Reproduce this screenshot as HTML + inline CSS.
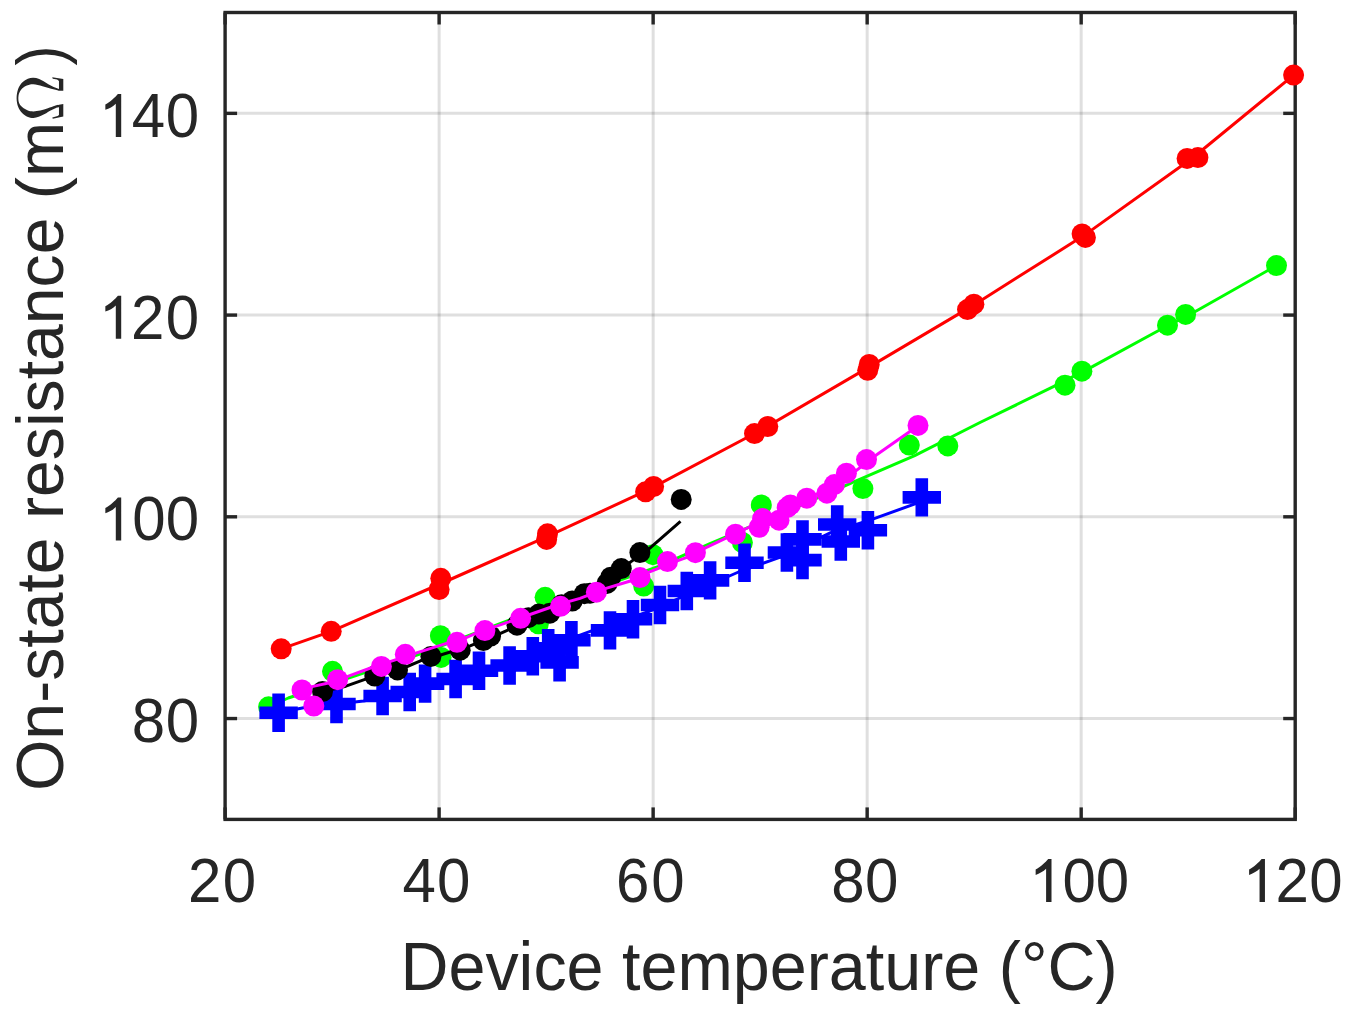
<!DOCTYPE html>
<html><head><meta charset="utf-8"><style>
html,body{margin:0;padding:0;background:#fff;}
body{width:1352px;height:1017px;overflow:hidden;}
svg{display:block;}
text{font-family:"Liberation Sans",sans-serif;fill:#262626;}
</style></head><body>
<svg width="1352" height="1017" viewBox="0 0 1352 1017">
<rect width="1352" height="1017" fill="#fff"/>
<g stroke="#262626" stroke-opacity="0.15" stroke-width="3">
<line x1="439.12" y1="12.5" x2="439.12" y2="819.4"/>
<line x1="653.14" y1="12.5" x2="653.14" y2="819.4"/>
<line x1="867.16" y1="12.5" x2="867.16" y2="819.4"/>
<line x1="1081.18" y1="12.5" x2="1081.18" y2="819.4"/>
<line x1="225.1" y1="718.54" x2="1295.2" y2="718.54"/>
<line x1="225.1" y1="516.81" x2="1295.2" y2="516.81"/>
<line x1="225.1" y1="315.09" x2="1295.2" y2="315.09"/>
<line x1="225.1" y1="113.36" x2="1295.2" y2="113.36"/>
</g>
<g stroke="#262626" stroke-width="3.4">
<line x1="225.10" y1="819.4" x2="225.10" y2="807.4"/>
<line x1="225.10" y1="12.5" x2="225.10" y2="24.5"/>
<line x1="439.12" y1="819.4" x2="439.12" y2="807.4"/>
<line x1="439.12" y1="12.5" x2="439.12" y2="24.5"/>
<line x1="653.14" y1="819.4" x2="653.14" y2="807.4"/>
<line x1="653.14" y1="12.5" x2="653.14" y2="24.5"/>
<line x1="867.16" y1="819.4" x2="867.16" y2="807.4"/>
<line x1="867.16" y1="12.5" x2="867.16" y2="24.5"/>
<line x1="1081.18" y1="819.4" x2="1081.18" y2="807.4"/>
<line x1="1081.18" y1="12.5" x2="1081.18" y2="24.5"/>
<line x1="1295.20" y1="819.4" x2="1295.20" y2="807.4"/>
<line x1="1295.20" y1="12.5" x2="1295.20" y2="24.5"/>
<line x1="225.1" y1="718.54" x2="237.1" y2="718.54"/>
<line x1="1295.2" y1="718.54" x2="1283.2" y2="718.54"/>
<line x1="225.1" y1="516.81" x2="237.1" y2="516.81"/>
<line x1="1295.2" y1="516.81" x2="1283.2" y2="516.81"/>
<line x1="225.1" y1="315.09" x2="237.1" y2="315.09"/>
<line x1="1295.2" y1="315.09" x2="1283.2" y2="315.09"/>
<line x1="225.1" y1="113.36" x2="237.1" y2="113.36"/>
<line x1="1295.2" y1="113.36" x2="1283.2" y2="113.36"/>
</g>
<rect x="225.1" y="12.5" width="1070.10" height="806.90" fill="none" stroke="#262626" stroke-width="3.4" stroke-linejoin="miter"/>
<g font-size="60" fill="#262626">
<text transform="translate(188.08,902.00) scale(1,1.04)" x="0" y="0">2</text>
<text transform="translate(222.76,902.00) scale(1,1.04)" x="0" y="0">0</text>
<text transform="translate(402.62,902.00) scale(1,1.04)" x="0" y="0">4</text>
<text transform="translate(436.96,902.00) scale(1,1.04)" x="0" y="0">0</text>
<text transform="translate(615.95,902.00) scale(1,1.04)" x="0" y="0">6</text>
<text transform="translate(651.26,902.00) scale(1,1.04)" x="0" y="0">0</text>
<text transform="translate(831.19,902.00) scale(1,1.04)" x="0" y="0">8</text>
<text transform="translate(864.96,902.00) scale(1,1.04)" x="0" y="0">0</text>
<path transform="translate(1051.50,902.00)" d="M0 0V-43H-3.3C-6 -39.7 -11 -35 -15.85 -32.4V-27.1C-12 -28.4 -8.2 -30.6 -5.4 -33.3V0Z"/>
<text transform="translate(1062.46,902.00) scale(1,1.04)" x="0" y="0">0</text>
<text transform="translate(1095.76,902.00) scale(1,1.04)" x="0" y="0">0</text>
<path transform="translate(1264.95,902.00)" d="M0 0V-43H-3.3C-6 -39.7 -11 -35 -15.85 -32.4V-27.1C-12 -28.4 -8.2 -30.6 -5.4 -33.3V0Z"/>
<text transform="translate(1275.58,902.00) scale(1,1.04)" x="0" y="0">2</text>
<text transform="translate(1309.26,902.00) scale(1,1.04)" x="0" y="0">0</text>
<text transform="translate(131.79,742.14) scale(1,1.04)" x="0" y="0">8</text>
<text transform="translate(165.66,742.14) scale(1,1.04)" x="0" y="0">0</text>
<path transform="translate(121.20,540.41)" d="M0 0V-43H-3.3C-6 -39.7 -11 -35 -15.85 -32.4V-27.1C-12 -28.4 -8.2 -30.6 -5.4 -33.3V0Z"/>
<text transform="translate(132.36,540.41) scale(1,1.04)" x="0" y="0">0</text>
<text transform="translate(165.66,540.41) scale(1,1.04)" x="0" y="0">0</text>
<path transform="translate(121.20,338.69)" d="M0 0V-43H-3.3C-6 -39.7 -11 -35 -15.85 -32.4V-27.1C-12 -28.4 -8.2 -30.6 -5.4 -33.3V0Z"/>
<text transform="translate(130.98,338.69) scale(1,1.04)" x="0" y="0">2</text>
<text transform="translate(165.66,338.69) scale(1,1.04)" x="0" y="0">0</text>
<path transform="translate(121.20,136.96)" d="M0 0V-43H-3.3C-6 -39.7 -11 -35 -15.85 -32.4V-27.1C-12 -28.4 -8.2 -30.6 -5.4 -33.3V0Z"/>
<text transform="translate(131.72,136.96) scale(1,1.04)" x="0" y="0">4</text>
<text transform="translate(165.66,136.96) scale(1,1.04)" x="0" y="0">0</text>
</g>
<text transform="translate(400.45,990.1) scale(1.007,1.025)" font-size="66">Device temperature (°C)</text>
<text transform="translate(63.3,791.1) rotate(-90) scale(1.0025,1.02)" font-size="66">On-state resistance (m</text>
<path d="M52.21 77.14 L63.30 79.09 L63.30 90.83 L58.70 90.67 C57.44 90.36 53.83 89.59 51.13 88.83 C48.42 88.07 45.44 86.88 42.47 86.13 C39.49 85.37 35.97 84.34 33.27 84.29 C30.56 84.23 28.26 84.89 26.23 85.80 C24.20 86.71 22.37 88.15 21.09 89.75 C19.81 91.36 18.91 93.31 18.55 95.43 C18.19 97.55 18.28 100.48 18.93 102.47 C19.58 104.45 20.96 106.00 22.45 107.34 C23.93 108.67 26.05 109.80 27.86 110.48 C29.66 111.15 31.19 111.38 33.27 111.40 C35.34 111.41 37.87 111.12 40.30 110.58 C42.74 110.05 45.44 109.02 47.88 108.20 C50.31 107.39 53.06 106.29 54.91 105.71 C56.76 105.14 58.30 104.90 58.97 104.74 L63.30 104.09 L63.30 116.54 L52.75 118.81 L52.32 117.40 L57.62 115.89 L58.97 114.91 L58.97 107.34 C58.48 107.45 57.30 107.49 56.00 107.99 C54.69 108.48 53.02 109.29 51.13 110.31 C49.23 111.33 46.71 113.01 44.63 114.10 C42.56 115.19 40.57 116.23 38.68 116.86 C36.79 117.49 35.16 117.93 33.27 117.89 C31.37 117.85 29.21 117.50 27.32 116.65 C25.42 115.79 23.44 114.39 21.90 112.75 C20.37 111.11 19.00 109.23 18.12 106.80 C17.23 104.36 16.60 101.11 16.60 98.14 C16.60 95.16 17.14 91.57 18.12 88.94 C19.09 86.31 20.82 84.03 22.45 82.34 C24.07 80.64 26.05 79.51 27.86 78.77 C29.66 78.02 31.37 77.82 33.27 77.85 C35.16 77.87 37.24 78.21 39.22 78.93 C41.20 79.65 43.10 80.99 45.17 82.18 C47.25 83.36 49.37 84.87 51.67 86.02 C53.97 87.16 57.75 88.54 58.97 89.05 L58.97 81.09 L57.08 79.52 L52.75 78.66 L52.21 77.14 Z" fill="#262626"/>
<text transform="translate(63.3,65.4) rotate(-90) scale(0.91,1.02)" font-size="66">)</text>
<polyline points="281.2,648.8 331.2,631.3 440.0,584.0 547.0,536.6 649.6,489.2 761.2,430.0 868.5,367.4 970.7,306.9 1083.8,235.6 1192.5,158.0 1293.6,75.1" fill="none" stroke="#ff0000" stroke-width="3" stroke-linejoin="round"/>
<circle cx="281.2" cy="648.8" r="10.5" fill="#ff0000"/>
<circle cx="331.2" cy="631.3" r="10.5" fill="#ff0000"/>
<circle cx="439.1" cy="589.5" r="10.5" fill="#ff0000"/>
<circle cx="440.8" cy="578.3" r="10.5" fill="#ff0000"/>
<circle cx="546.6" cy="539.4" r="10.5" fill="#ff0000"/>
<circle cx="547.5" cy="533.8" r="10.5" fill="#ff0000"/>
<circle cx="645.6" cy="491.8" r="10.5" fill="#ff0000"/>
<circle cx="653.6" cy="486.5" r="10.5" fill="#ff0000"/>
<circle cx="754.5" cy="433.6" r="10.5" fill="#ff0000"/>
<circle cx="767.8" cy="426.5" r="10.5" fill="#ff0000"/>
<circle cx="867.7" cy="370.3" r="10.5" fill="#ff0000"/>
<circle cx="869.2" cy="364.5" r="10.5" fill="#ff0000"/>
<circle cx="967.5" cy="309.6" r="10.5" fill="#ff0000"/>
<circle cx="973.9" cy="304.2" r="10.5" fill="#ff0000"/>
<circle cx="1082.1" cy="233.9" r="10.5" fill="#ff0000"/>
<circle cx="1085.4" cy="237.4" r="10.5" fill="#ff0000"/>
<circle cx="1187.1" cy="158.4" r="10.5" fill="#ff0000"/>
<circle cx="1197.9" cy="157.6" r="10.5" fill="#ff0000"/>
<circle cx="1293.6" cy="75.1" r="10.5" fill="#ff0000"/>
<polyline points="268.6,706.8 288.3,698.0 358.2,674.9 420.5,653.8 520.0,616.0 620.1,580.2 657.9,566.6 710.0,543.6 725.4,537.2 790.0,510.0 856.2,480.9 914.7,455.6 980.0,422.5 1054.4,386.2 1091.9,366.9 1157.3,331.3 1195.8,311.2 1276.5,265.6" fill="none" stroke="#00ff00" stroke-width="3" stroke-linejoin="round"/>
<circle cx="268.6" cy="706.8" r="10.5" fill="#00ff00"/>
<circle cx="332.5" cy="671.3" r="10.5" fill="#00ff00"/>
<circle cx="440.4" cy="635.7" r="10.5" fill="#00ff00"/>
<circle cx="441.1" cy="657.4" r="10.5" fill="#00ff00"/>
<circle cx="545.1" cy="597.3" r="10.5" fill="#00ff00"/>
<circle cx="538.4" cy="623.8" r="10.5" fill="#00ff00"/>
<circle cx="652.9" cy="554.7" r="10.5" fill="#00ff00"/>
<circle cx="643.7" cy="586.1" r="10.5" fill="#00ff00"/>
<circle cx="761.3" cy="504.9" r="10.5" fill="#00ff00"/>
<circle cx="742.4" cy="542.5" r="10.5" fill="#00ff00"/>
<circle cx="862.9" cy="488.6" r="10.5" fill="#00ff00"/>
<circle cx="909.3" cy="445.1" r="10.5" fill="#00ff00"/>
<circle cx="947.8" cy="445.9" r="10.5" fill="#00ff00"/>
<circle cx="1065.0" cy="385.2" r="10.5" fill="#00ff00"/>
<circle cx="1081.9" cy="371.2" r="10.5" fill="#00ff00"/>
<circle cx="1167.5" cy="325.2" r="10.5" fill="#00ff00"/>
<circle cx="1185.6" cy="314.4" r="10.5" fill="#00ff00"/>
<circle cx="1276.5" cy="265.6" r="10.5" fill="#00ff00"/>
<polyline points="278.6,712.8 303.6,707.8 363.6,701.0 420.0,689.0 480.0,672.0 540.0,650.0 590.9,631.2 649.0,611.5 700.0,589.0 738.5,572.0 779.7,557.3 830.7,532.7 874.1,518.6 915.0,503.9 921.8,497.4" fill="none" stroke="#0000ff" stroke-width="3" stroke-linejoin="round"/>
<path d="M259.40 706.50H297.80V719.10H259.40ZM272.30 693.60H284.90V732.00H272.30Z" fill="#0000ff"/>
<path d="M317.30 697.70H355.70V710.30H317.30ZM330.20 684.80H342.80V723.20H330.20Z" fill="#0000ff"/>
<path d="M363.40 689.70H401.80V702.30H363.40ZM376.30 676.80H388.90V715.20H376.30Z" fill="#0000ff"/>
<path d="M390.50 685.70H428.90V698.30H390.50ZM403.40 672.80H416.00V711.20H403.40Z" fill="#0000ff"/>
<path d="M405.90 677.30H444.30V689.90H405.90ZM418.80 664.40H431.40V702.80H418.80Z" fill="#0000ff"/>
<path d="M436.40 672.70H474.80V685.30H436.40ZM449.30 659.80H461.90V698.20H449.30Z" fill="#0000ff"/>
<path d="M459.80 664.40H498.20V677.00H459.80ZM472.70 651.50H485.30V689.90H472.70Z" fill="#0000ff"/>
<path d="M490.40 659.20H528.80V671.80H490.40ZM503.30 646.30H515.90V684.70H503.30Z" fill="#0000ff"/>
<path d="M513.60 650.00H552.00V662.60H513.60ZM526.50 637.10H539.10V675.50H526.50Z" fill="#0000ff"/>
<path d="M529.00 641.90H567.40V654.50H529.00ZM541.90 629.00H554.50V667.40H541.90Z" fill="#0000ff"/>
<path d="M540.40 656.10H578.80V668.70H540.40ZM553.30 643.20H565.90V681.60H553.30Z" fill="#0000ff"/>
<path d="M552.20 634.00H590.60V646.60H552.20ZM565.10 621.10H577.70V659.50H565.10Z" fill="#0000ff"/>
<path d="M590.80 624.10H629.20V636.70H590.80ZM603.70 611.20H616.30V649.60H603.70Z" fill="#0000ff"/>
<path d="M613.80 612.90H652.20V625.50H613.80ZM626.70 600.00H639.30V638.40H626.70Z" fill="#0000ff"/>
<path d="M640.80 598.70H679.20V611.30H640.80ZM653.70 585.80H666.30V624.20H653.70Z" fill="#0000ff"/>
<path d="M667.60 584.70H706.00V597.30H667.60ZM680.50 571.80H693.10V610.20H680.50Z" fill="#0000ff"/>
<path d="M690.90 574.10H729.30V586.70H690.90ZM703.80 561.20H716.40V599.60H703.80Z" fill="#0000ff"/>
<path d="M725.30 556.50H763.70V569.10H725.30ZM738.20 543.60H750.80V582.00H738.20Z" fill="#0000ff"/>
<path d="M767.70 546.20H806.10V558.80H767.70ZM780.60 533.30H793.20V571.70H780.60Z" fill="#0000ff"/>
<path d="M783.30 533.10H821.70V545.70H783.30ZM796.20 520.20H808.80V558.60H796.20Z" fill="#0000ff"/>
<path d="M783.30 553.80H821.70V566.40H783.30ZM796.20 540.90H808.80V579.30H796.20Z" fill="#0000ff"/>
<path d="M818.00 518.20H856.40V530.80H818.00ZM830.90 505.30H843.50V543.70H830.90Z" fill="#0000ff"/>
<path d="M821.60 535.20H860.00V547.80H821.60ZM834.50 522.30H847.10V560.70H834.50Z" fill="#0000ff"/>
<path d="M848.70 523.90H887.10V536.50H848.70ZM861.60 511.00H874.20V549.40H861.60Z" fill="#0000ff"/>
<path d="M902.60 491.10H941.00V503.70H902.60ZM915.50 478.20H928.10V516.60H915.50Z" fill="#0000ff"/>
<polyline points="322.5,691.5 345.9,686.2 365.0,679.3 407.2,666.5 420.5,660.8 440.6,655.0 470.1,645.9 500.0,633.7 530.0,620.0 560.0,607.0 590.0,592.0 610.0,580.0 630.7,561.9 649.6,548.3 680.5,521.3" fill="none" stroke="#000000" stroke-width="3" stroke-linejoin="round"/>
<circle cx="322.5" cy="691.5" r="10.5" fill="#000000"/>
<circle cx="374.8" cy="676.0" r="10.5" fill="#000000"/>
<circle cx="397.5" cy="669.9" r="10.5" fill="#000000"/>
<circle cx="430.9" cy="656.4" r="10.5" fill="#000000"/>
<circle cx="460.2" cy="650.2" r="10.5" fill="#000000"/>
<circle cx="483.4" cy="640.6" r="10.5" fill="#000000"/>
<circle cx="490.6" cy="636.0" r="10.5" fill="#000000"/>
<circle cx="517.0" cy="625.2" r="10.5" fill="#000000"/>
<circle cx="528.4" cy="617.7" r="10.5" fill="#000000"/>
<circle cx="538.8" cy="614.1" r="10.5" fill="#000000"/>
<circle cx="549.8" cy="613.2" r="10.5" fill="#000000"/>
<circle cx="561.5" cy="604.8" r="10.5" fill="#000000"/>
<circle cx="572.2" cy="601.0" r="10.5" fill="#000000"/>
<circle cx="584.4" cy="593.7" r="10.5" fill="#000000"/>
<circle cx="590.0" cy="593.2" r="10.5" fill="#000000"/>
<circle cx="607.0" cy="583.4" r="10.5" fill="#000000"/>
<circle cx="610.7" cy="577.2" r="10.5" fill="#000000"/>
<circle cx="621.3" cy="568.6" r="10.5" fill="#000000"/>
<circle cx="639.9" cy="552.6" r="10.5" fill="#000000"/>
<circle cx="681.2" cy="499.4" r="10.5" fill="#000000"/>
<polyline points="302.0,690.0 312.1,686.6 328.4,683.0 347.8,676.4 371.9,667.5 391.5,661.1 415.0,653.3 446.5,643.4 466.7,637.5 475.0,633.6 520.0,618.0 560.0,604.0 580.0,598.4 606.0,588.4 629.5,581.3 649.6,571.9 677.9,560.7 686.2,557.7 705.9,547.7 725.4,538.4 760.0,522.0 800.0,502.0 840.0,483.0 875.6,455.6 909.9,431.4 918.0,425.4" fill="none" stroke="#ff00ff" stroke-width="3" stroke-linejoin="round"/>
<circle cx="302.0" cy="690.0" r="10.5" fill="#ff00ff"/>
<circle cx="313.8" cy="706.0" r="10.5" fill="#ff00ff"/>
<circle cx="337.6" cy="679.7" r="10.5" fill="#ff00ff"/>
<circle cx="381.4" cy="666.4" r="10.5" fill="#ff00ff"/>
<circle cx="405.3" cy="654.3" r="10.5" fill="#ff00ff"/>
<circle cx="457.0" cy="642.3" r="10.5" fill="#ff00ff"/>
<circle cx="484.9" cy="630.6" r="10.5" fill="#ff00ff"/>
<circle cx="520.6" cy="618.3" r="10.5" fill="#ff00ff"/>
<circle cx="560.5" cy="606.3" r="10.5" fill="#ff00ff"/>
<circle cx="596.4" cy="592.2" r="10.5" fill="#ff00ff"/>
<circle cx="640.0" cy="577.6" r="10.5" fill="#ff00ff"/>
<circle cx="667.5" cy="561.6" r="10.5" fill="#ff00ff"/>
<circle cx="695.4" cy="552.7" r="10.5" fill="#ff00ff"/>
<circle cx="735.5" cy="534.2" r="10.5" fill="#ff00ff"/>
<circle cx="759.1" cy="527.3" r="10.5" fill="#ff00ff"/>
<circle cx="762.6" cy="518.6" r="10.5" fill="#ff00ff"/>
<circle cx="779.0" cy="520.2" r="10.5" fill="#ff00ff"/>
<circle cx="787.2" cy="507.6" r="10.5" fill="#ff00ff"/>
<circle cx="790.3" cy="504.9" r="10.5" fill="#ff00ff"/>
<circle cx="806.8" cy="498.2" r="10.5" fill="#ff00ff"/>
<circle cx="826.9" cy="493.2" r="10.5" fill="#ff00ff"/>
<circle cx="834.4" cy="484.6" r="10.5" fill="#ff00ff"/>
<circle cx="846.4" cy="473.2" r="10.5" fill="#ff00ff"/>
<circle cx="866.5" cy="459.6" r="10.5" fill="#ff00ff"/>
<circle cx="918.0" cy="425.4" r="10.5" fill="#ff00ff"/>
</svg>
</body></html>
